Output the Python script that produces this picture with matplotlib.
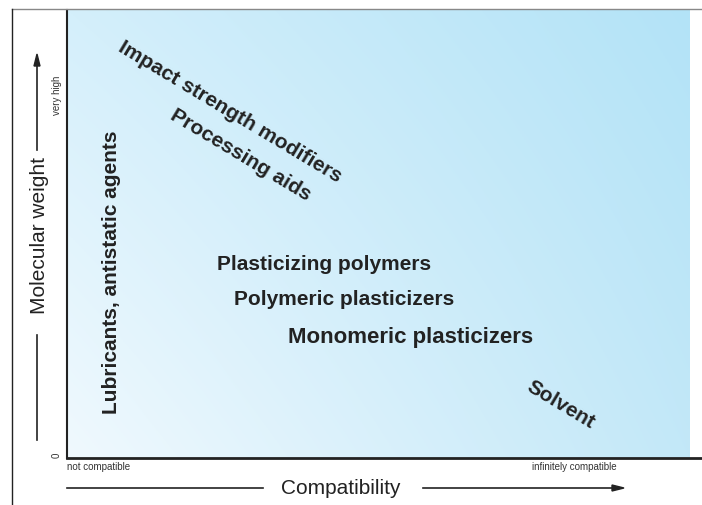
import numpy as np
import matplotlib.pyplot as plt
from matplotlib.colors import to_rgb

plt.rcParams['font.family'] = ['Liberation Sans', 'DejaVu Sans']

# Beschriftungen im Diagramm (Position in Achsenkoordinaten 0..1)
labels = ["Impact strength modifiers", "Processing aids", "Lubricants, antistatic agents",
          "Plasticizing polymers", "Polymeric plasticizers", "Monomeric plasticizers", "Solvent"]
label_x = [0.262, 0.279, 0.072, 0.413, 0.445, 0.552, 0.793]
label_y = [0.772, 0.676, 0.415, 0.433, 0.353, 0.268, 0.118]
label_rot = [-31, -31, 90, 0, 0, 0, -31]

x_title = "Compatibility"
y_title = "Molecular weight"
x_ends = ["not compatible", "infinitely compatible"]
y_ends = ["0", "very high"]

fig = plt.figure(figsize=(7.02, 5.05), dpi=100)
ax = fig.add_axes([67/702, 47/505, 623/702, 448/505])

# Hintergrund: Verlauf aus den vier Eckfarben (bilinear)
tl, tr = np.array(to_rgb("#d4effb")), np.array(to_rgb("#b3e3f7"))
bl, br = np.array(to_rgb("#f0f9fe")), np.array(to_rgb("#c3e8f8"))
gx, gy = np.meshgrid(np.linspace(0, 1, 300), np.linspace(0, 1, 300))
gx, gy = gx[..., None], gy[..., None]
bg = (bl * (1 - gx) * (1 - gy) + br * gx * (1 - gy)
      + tl * (1 - gx) * gy + tr * gx * gy)
ax.imshow(bg, extent=[0, 1, 0, 1], origin="lower", aspect="auto", zorder=0)
ax.set_xlim(0, 1)
ax.set_ylim(0, 1)
ax.set_xticks([])
ax.set_yticks([])
for side in ["top", "right", "bottom"]:
    ax.spines[side].set_visible(False)
ax.spines["left"].set_linewidth(1.5)
ax.spines["left"].set_color("#222222")

for txt, x, y, r in zip(labels, label_x, label_y, label_rot):
    fs = 16 if txt.startswith("Monomeric") else 15
    ax.text(x, y, txt, rotation=r, ha="center", va="center", fontsize=fs,
            fontweight="bold", color="#222222")

# Rahmen und Achsenlinien (Figurkoordinaten)
def fx(px):
    return px / 702

def fy(py):
    return 1 - py / 505

fig.add_artist(plt.Line2D([fx(67), fx(702)], [fy(458), fy(458)], color="#222222", lw=2))
fig.add_artist(plt.Line2D([fx(12), fx(702)], [fy(9), fy(9)], color="#888888", lw=1))
fig.add_artist(plt.Line2D([fx(12), fx(12)], [fy(9), fy(505)], color="#222222", lw=1))

# x-Achse
fig.text(fx(67), fy(467), x_ends[0], ha="left", va="center", fontsize=7, color="#333333")
fig.text(fx(617), fy(467), x_ends[1], ha="right", va="center", fontsize=7, color="#333333")
fig.text(fx(341), fy(488), x_title, ha="center", va="center", fontsize=15, color="#222222")
fig.add_artist(plt.Line2D([fx(67), fx(263)], [fy(488), fy(488)], color="#222222", lw=1.2))
fig.add_artist(plt.Line2D([fx(423), fx(612)], [fy(488), fy(488)], color="#222222", lw=1.2))
fig.patches.append(plt.Polygon([[fx(612), fy(485)], [fx(624), fy(488)], [fx(612), fy(491)]],
                               closed=True, color="#222222", transform=fig.transFigure))

# y-Achse
fig.text(fx(40), fy(236), y_title, rotation=90, ha="center", va="center", fontsize=15,
         color="#222222")
fig.text(fx(57), fy(455), y_ends[0], rotation=90, ha="center", va="center", fontsize=7,
         color="#333333")
fig.text(fx(57), fy(95), y_ends[1], rotation=90, ha="center", va="center", fontsize=7,
         color="#333333")
fig.add_artist(plt.Line2D([fx(37), fx(37)], [fy(440), fy(335)], color="#222222", lw=1.2))
fig.add_artist(plt.Line2D([fx(37), fx(37)], [fy(150), fy(66)], color="#222222", lw=1.2))
fig.patches.append(plt.Polygon([[fx(34), fy(66)], [fx(37), fy(54)], [fx(40), fy(66)]],
                               closed=True, color="#222222", transform=fig.transFigure))

fig.savefig("out.png", dpi=100)
